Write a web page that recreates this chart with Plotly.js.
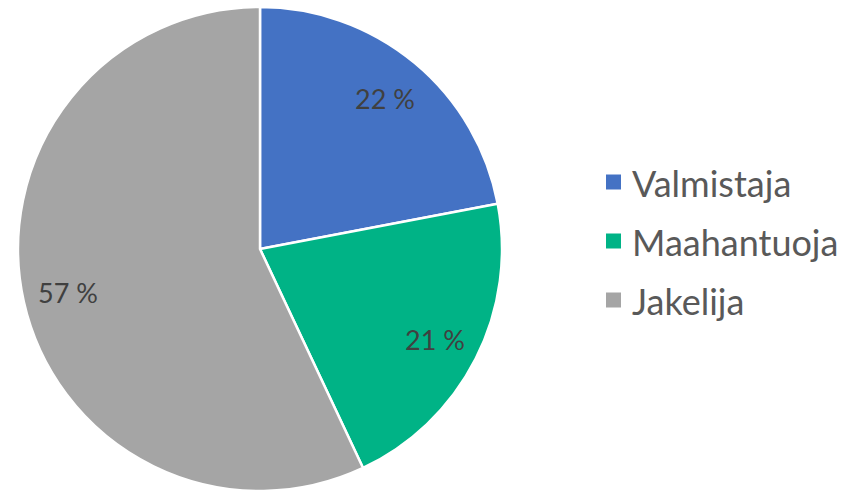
<!DOCTYPE html>
<html><head><meta charset="utf-8">
<script src="https://cdn.plot.ly/plotly-3.0.1.min.js"></script>
<style>html,body{margin:0;padding:0;background:#fff}#chart{width:846px;height:491px}</style>
</head><body><div id="chart"></div>
<script>
const categories = ["Valmistaja", "Maahantuoja", "Jakelija"];
const values = [22, 21, 57];
const colors = ["#4472C4", "#00B386", "#A5A5A5"];

const W = 846, H = 491;
const cx = 260, cy = 250, R = 243;
const total = values.reduce((a, b) => a + b, 0);
const FONT = "Lato, 'Open Sans', sans-serif";

const annotations = [];
let cum = 0;
values.forEach((v, i) => {
  const mid = (cum + v / 2) / total * 2 * Math.PI;
  cum += v;
  const r = 0.81 * R;
  const px = cx + r * Math.sin(mid);
  const py = cy - r * Math.cos(mid);
  annotations.push({
    xref: "paper", yref: "paper", x: px / W, y: 1 - py / H,
    text: v + " %", showarrow: false,
    font: {family: FONT, size: 27, color: "#404040"},
    xanchor: "center", yanchor: "middle"
  });
});

const shapes = [];
const legendX = 606, legendText = 630, legendY0 = 182, legendStep = 59, sq = 15;
categories.forEach((c, i) => {
  const y = legendY0 + i * legendStep;
  shapes.push({type: "rect", xref: "paper", yref: "paper",
    x0: legendX / W, x1: (legendX + sq) / W,
    y0: 1 - (y + sq / 2) / H, y1: 1 - (y - sq / 2) / H,
    fillcolor: colors[i], line: {width: 0}});
  annotations.push({xref: "paper", yref: "paper", x: legendText / W, y: 1 - (y + 1) / H,
    text: c, showarrow: false, xanchor: "left", yanchor: "middle",
    font: {family: FONT, size: 36, color: "#595959"}});
});

const trace = {
  type: "pie",
  labels: categories,
  values: values,
  sort: false,
  direction: "clockwise",
  rotation: 0,
  marker: {colors: colors, line: {color: "#FFFFFF", width: 2.5}},
  textinfo: "none",
  hoverinfo: "label+percent",
  domain: {x: [(cx - R) / W, (cx + R) / W], y: [Math.max(0, (H - cy - R) / H), (H - cy + R) / H]},
  showlegend: false
};

Plotly.newPlot("chart", [trace], {
  width: W, height: H,
  margin: {l: 0, r: 0, t: 0, b: 0},
  paper_bgcolor: "#FFFFFF",
  showlegend: false,
  annotations: annotations,
  shapes: shapes
}, {displayModeBar: false, staticPlot: true});
</script></body></html>
